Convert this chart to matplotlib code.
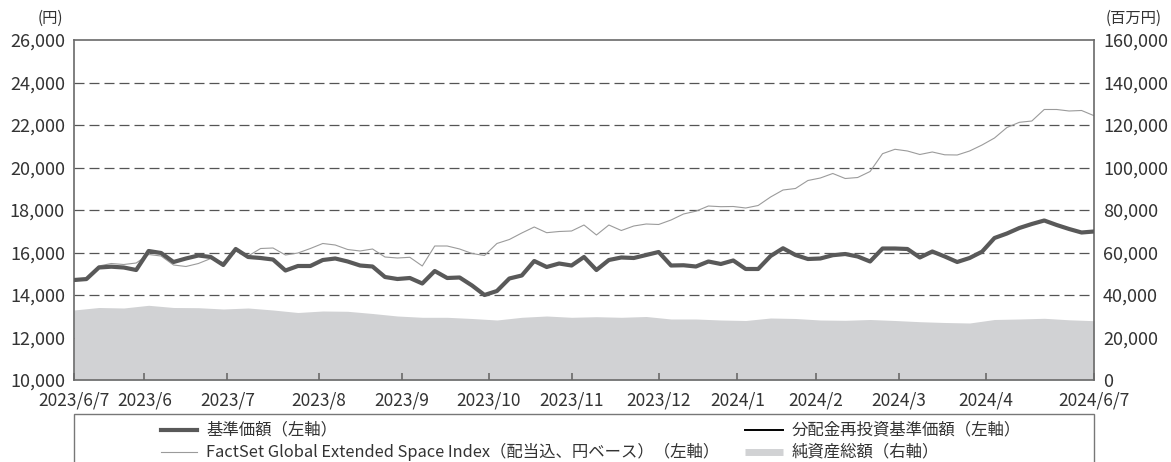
import numpy as np
import matplotlib
matplotlib.use("Agg")
import matplotlib.pyplot as plt
from matplotlib.lines import Line2D
from matplotlib.patches import Rectangle
from matplotlib.ticker import FuncFormatter

plt.rcParams["font.family"] = ["Noto Sans CJK JP", "DejaVu Sans"]
plt.rcParams["lines.scale_dashes"] = False

# business-day calendar (Japan) for the chart period
START = "2023-06-07"
END = "2024-06-08"
JP_HOLIDAYS = [
    "2023-07-17", "2023-08-11", "2023-09-18", "2023-10-09", "2023-11-03",
    "2023-11-23", "2024-01-01", "2024-01-02", "2024-01-03", "2024-01-08",
    "2024-02-12", "2024-02-23", "2024-03-20", "2024-04-29", "2024-05-03",
    "2024-05-06",
]
STEP = 3  # values below are sampled every 3 business days

# 基準価額 (円), every 3 business days
base_price = [
    14706, 14750, 15294, 15332, 15294, 15176, 16071, 15977, 15553, 15718,
    15859, 15788, 15412, 16165, 15788, 15741, 15670, 15153, 15365, 15365,
    15647, 15718, 15577, 15388, 15341, 14847, 14753, 14800, 14541, 15129,
    14800, 14824, 14447, 14000, 14188, 14777, 14918, 15600, 15318, 15482,
    15388, 15788, 15176, 15647, 15765, 15741, 15882, 16024, 15388, 15400,
    15341, 15577, 15459, 15624, 15224, 15224, 15835, 16200, 15882, 15694,
    15718, 15873, 15929, 15812, 15577, 16188, 16188, 16165, 15765, 16047,
    15812, 15553, 15741, 16038, 16682, 16894, 17153, 17341, 17506, 17294,
    17106, 16941, 16988,
]

# FactSet Global Extended Space Index (円ベース), every 3 business days
index_price = [
    14650, 14753, 15365, 15482, 15435, 15506, 15906, 15835, 15412, 15341,
    15482, 15718, 15529, 16071, 15835, 16188, 16212, 15882, 15976, 16188,
    16424, 16353, 16141, 16071, 16165, 15788, 15741, 15774, 15365, 16306,
    16306, 16165, 15953, 15859, 16424, 16612, 16918, 17200, 16932, 16988,
    17012, 17294, 16824, 17294, 17035, 17247, 17341, 17318, 17530, 17812,
    17944, 18188, 18156, 18165, 18094, 18212, 18612, 18941, 19012, 19388,
    19506, 19718, 19482, 19529, 19812, 20650, 20857, 20777, 20612, 20730,
    20598, 20588, 20777, 21059, 21388, 21882, 22127, 22188, 22730, 22730,
    22659, 22683, 22438,
]

# 純資産総額 (百万円), every 6 business days
net_assets = [
    32941, 34118, 33882, 35153, 34118, 34024, 33412, 33882, 32941, 31765,
    32471, 32330, 31294, 30118, 29506, 29506, 28941, 28235, 29506, 30118,
    29506, 29788, 29506, 29882, 28706, 28706, 28235, 28000, 29176, 28941,
    28235, 28094, 28471, 28000, 27435, 27059, 26824, 28471, 28706, 29035,
    28329, 27906,
]

month_labels = ["2023/6", "2023/7", "2023/8", "2023/9", "2023/10", "2023/11",
                "2023/12", "2024/1", "2024/2", "2024/3", "2024/4"]
first_label = "2023/6/7"
last_label = "2024/6/7"

legend_labels = ["基準価額（左軸）",
                 "FactSet Global Extended Space Index（配当込、円ベース）（左軸）",
                 "分配金再投資基準価額（左軸）",
                 "純資産総額（右軸）"]

DARK = "#595959"
THIN = "#9b9b9b"
AREA = "#d1d2d4"
SPINE = "#6a6a6a"
GRID = "#555555"


def main():
    days = np.arange(np.datetime64(START), np.datetime64(END))
    bdays = days[np.is_busday(days, holidays=JP_HOLIDAYS)]
    pos = np.arange(len(bdays))
    x_line = pos[::STEP]
    x_nav = pos[::STEP * 2]

    months = bdays.astype("datetime64[M]")
    month_end = np.where(months[1:] != months[:-1])[0][:len(month_labels)]
    tick_pos = [pos[0]] + list(month_end) + [pos[-1]]
    tick_lab = [first_label] + month_labels + [last_label]

    fig = plt.figure(figsize=(11.71, 4.62), dpi=100)
    ax = fig.add_axes([74 / 1171, 82 / 462, 1020 / 1171, 340 / 462])
    ax2 = ax.twinx()
    ax.set_zorder(ax2.get_zorder() + 1)
    ax.patch.set_visible(False)

    # net assets area (right axis) with the dashed grid behind it
    ax2.fill_between(x_nav, net_assets, 0, color=AREA, lw=0, zorder=1)
    ax2.set_ylim(0, 160000)
    ax2.set_yticks(np.arange(0, 160001, 20000))
    for v in np.arange(20000, 160000, 20000):
        ax2.axhline(v, color=GRID, lw=0.9, dashes=(7.2, 3.6), zorder=0.5)

    ax.plot(x_line, index_price, color=THIN, lw=0.8, zorder=2)
    ax.plot(x_line, base_price, color="black", lw=1.2, zorder=3)
    ax.plot(x_line, base_price, color=DARK, lw=3.0, zorder=4,
            solid_joinstyle="round")

    ax.set_xlim(pos[0], pos[-1])
    ax.set_ylim(10000, 26000)
    ax.set_yticks(np.arange(10000, 26001, 2000))
    fmt = FuncFormatter(lambda v, p: f"{int(v):,}")
    ax.yaxis.set_major_formatter(fmt)
    ax2.yaxis.set_major_formatter(fmt)
    ax.set_xticks(tick_pos)
    ax.set_xticklabels(tick_lab)

    ax.tick_params(axis="y", length=0, pad=6.5, labelsize=13, labelcolor="#333333")
    ax2.tick_params(axis="y", length=0, pad=6.5, labelsize=13, labelcolor="#333333")
    ax.tick_params(axis="x", direction="in", length=5, width=1.2, color=SPINE,
                   pad=8, labelsize=12.5, labelcolor="#333333")

    for s in ax.spines.values():
        s.set_color(SPINE)
        s.set_linewidth(1.2)
    for s in ax2.spines.values():
        s.set_visible(False)

    fig.text(50 / 1171, 1 - 18 / 462, "(円)", ha="center", va="center",
             fontsize=11, color="#333333")
    fig.text(1134 / 1171, 1 - 18 / 462, "(百万円)", ha="center", va="center",
             fontsize=11, color="#333333")

    # legend box, open at the bottom edge of the picture
    fig.add_artist(Rectangle((74 / 1171, -0.1), 1020 / 1171, 0.1 + 48 / 462,
                             transform=fig.transFigure, fill=False,
                             ec="#777777", lw=1.0))
    row1 = 1 - 430 / 462
    row2 = 1 - 452 / 462
    handles = [
        (161, 197, row1, dict(color=DARK, lw=3.0)),
        (161, 197, row2, dict(color=THIN, lw=0.8)),
        (745, 783, row1, dict(color="black", lw=1.4)),
        (745, 783, row2, dict(color=AREA, lw=5.0, solid_capstyle="butt")),
    ]
    for (x0, x1, y, style), label in zip(handles, legend_labels):
        fig.add_artist(Line2D([x0 / 1171, x1 / 1171], [y, y],
                              transform=fig.transFigure, **style))
        fig.text((x1 + 9) / 1171, y, label, ha="left", va="center",
                 fontsize=11.8, color="#333333")

    fig.savefig("out.png", dpi=100)


if __name__ == "__main__":
    main()
